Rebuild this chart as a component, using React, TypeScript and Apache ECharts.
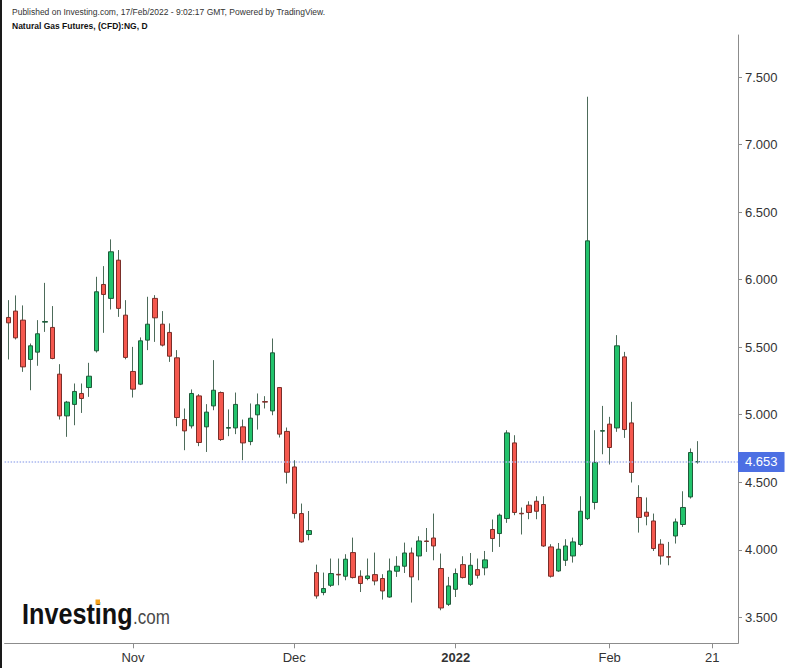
import React, { useEffect, useRef } from "react";
import * as echarts from "echarts";

const dates = [
  "2021-10-07","2021-10-08","2021-10-11","2021-10-12","2021-10-13","2021-10-14","2021-10-15","2021-10-18","2021-10-19","2021-10-20","2021-10-21","2021-10-22","2021-10-25","2021-10-26","2021-10-27","2021-10-28","2021-10-29",
  "2021-11-01","2021-11-02","2021-11-03","2021-11-04","2021-11-05","2021-11-08","2021-11-09","2021-11-10","2021-11-11","2021-11-12","2021-11-15","2021-11-16","2021-11-17","2021-11-18","2021-11-19","2021-11-22","2021-11-23","2021-11-24","2021-11-25","2021-11-26","2021-11-29","2021-11-30",
  "2021-12-01","2021-12-02","2021-12-03","2021-12-06","2021-12-07","2021-12-08","2021-12-09","2021-12-10","2021-12-13","2021-12-14","2021-12-15","2021-12-16","2021-12-17","2021-12-20","2021-12-21","2021-12-22","2021-12-23","2021-12-27","2021-12-28","2021-12-29","2021-12-30","2021-12-31",
  "2022-01-03","2022-01-04","2022-01-05","2022-01-06","2022-01-07","2022-01-10","2022-01-11","2022-01-12","2022-01-13","2022-01-14","2022-01-17","2022-01-18","2022-01-19","2022-01-20","2022-01-21","2022-01-24","2022-01-25","2022-01-26","2022-01-27","2022-01-28","2022-01-31",
  "2022-02-01","2022-02-02","2022-02-03","2022-02-04","2022-02-07","2022-02-08","2022-02-09","2022-02-10","2022-02-11","2022-02-14","2022-02-15","2022-02-16","2022-02-17","2022-02-18","2022-02-21","2022-02-22","2022-02-23","2022-02-24",
];

const openP = [
  5.72,5.767,5.70,5.409,5.463,5.685,5.646,5.30,4.991,5.076,5.157,5.201,5.473,5.964,5.861,6.144,5.737,
  5.32,5.226,5.552,5.861,5.670,5.609,5.421,4.964,4.917,5.139,4.910,5.065,5.164,4.900,4.902,4.910,4.801,4.999,5.097,5.028,5.201,4.876,
  4.613,4.268,4.113,3.831,3.683,3.737,3.818,3.804,3.979,3.804,3.787,3.816,3.787,3.650,3.841,3.878,3.976,3.954,4.065,4.087,3.861,3.596,
  3.707,3.890,3.744,3.853,3.866,4.150,4.120,4.231,4.791,4.270,4.330,4.359,4.335,4.021,3.843,3.922,3.954,4.039,4.231,4.350,4.878,
  4.930,4.902,5.428,4.939,4.387,4.278,4.213,4.041,3.949,4.102,4.187,4.391,4.650,
];
const highP = [
  5.848,5.883,5.809,5.527,5.70,5.976,5.804,5.374,5.102,5.231,5.231,5.384,6.021,6.10,6.298,6.219,5.848,
  5.502,5.572,5.873,5.885,5.767,5.676,5.478,5.046,5.187,5.152,5.078,5.404,5.172,5.039,5.164,4.964,5.083,5.157,5.137,5.564,5.205,4.905,
  4.663,4.342,4.287,3.890,3.831,3.935,3.935,3.967,4.090,3.848,3.935,3.979,3.819,3.935,3.952,4.053,4.016,4.100,4.161,4.268,3.972,3.799,
  3.861,3.952,3.976,3.935,3.991,4.224,4.268,4.885,4.848,4.313,4.359,4.396,4.396,4.041,4.050,4.078,4.090,4.396,7.354,4.885,5.065,
  4.984,5.589,5.465,5.095,4.478,4.387,4.268,4.078,4.058,4.231,4.433,4.750,4.804,
];
const lowP = [
  5.409,5.557,5.317,5.181,5.362,5.613,5.41,4.964,4.836,4.922,5.013,5.132,5.46,5.606,5.779,5.724,5.41,
  5.127,5.219,5.478,5.539,5.505,5.391,4.915,4.737,4.898,4.767,4.724,5.033,4.806,4.841,4.856,4.663,4.774,4.890,5.046,4.996,4.831,4.490,
  4.231,4.052,4.070,3.638,3.663,3.724,3.737,3.774,3.787,3.687,3.774,3.737,3.631,3.645,3.799,3.828,3.609,3.774,3.984,3.922,3.552,3.584,
  3.650,3.787,3.732,3.787,3.811,3.984,4.021,4.199,4.256,4.113,4.226,4.226,4.021,3.794,3.836,3.880,3.905,4.026,4.22,4.298,4.707,
  4.631,4.873,4.828,4.498,4.127,4.181,3.991,3.890,3.885,4.046,4.169,4.379,4.638,
];
const closeP = [
  5.68,5.569,5.354,5.510,5.599,5.690,5.416,4.991,5.093,5.172,5.12,5.285,5.91,5.890,6.206,5.787,5.424,
  5.189,5.547,5.670,5.717,5.515,5.433,4.979,4.880,5.157,4.794,5.019,5.181,4.816,4.905,5.076,4.791,4.974,5.073,5.093,5.458,4.856,4.574,
  4.268,4.058,4.142,3.658,3.713,3.824,3.814,3.930,3.794,3.750,3.806,3.769,3.695,3.843,3.878,3.976,3.799,4.065,4.061,4.028,3.569,3.732,
  3.824,3.794,3.885,3.811,3.925,4.083,4.256,4.865,4.276,4.266,4.276,4.285,4.028,3.804,4.004,4.028,4.058,4.285,6.287,4.646,4.882,
  4.757,5.510,4.890,4.572,4.239,4.248,4.009,3.954,3.945,4.206,4.313,4.720,4.653,
];

const yTicks = [3.5, 4.0, 4.5, 5.0, 5.5, 6.0, 6.5, 7.0, 7.5];
const xLabels: Record<string, string> = {
  "2021-11-01": "Nov",
  "2021-12-01": "Dec",
  "2022-01-03": "2022",
  "2022-02-01": "Feb",
  "2022-02-21": "21",
};
const lastPrice = closeP[closeP.length - 1];

const FONT = "'Liberation Sans', Arial, sans-serif";

export default function App() {
  const ref = useRef<HTMLDivElement>(null);

  useEffect(() => {
    if (!ref.current) return;
    const chart = echarts.init(ref.current, undefined, { renderer: "svg" });

    const full = closeP.map((c, i) => [openP[i], c, lowP[i], highP[i]]);
    const bodies = closeP.map((c, i) => [
      openP[i],
      c,
      Math.min(openP[i], c),
      Math.max(openP[i], c),
    ]);

    const option: any = {
      animation: false,
      backgroundColor: "#ffffff",
      grid: { left: 4.6, right: 49, top: 35, bottom: 24.7 },
      xAxis: {
        type: "category",
        data: dates,
        boundaryGap: true,
        axisLine: { show: true, lineStyle: { color: "#8c8c8c", width: 1 } },
        axisTick: {
          show: true,
          alignWithLabel: true,
          length: 5,
          interval: (i: number, v: string) => xLabels[v] !== undefined,
          lineStyle: { color: "#8c8c8c" },
        },
        axisLabel: {
          interval: (i: number, v: string) => xLabels[v] !== undefined,
          formatter: (v: string) =>
            xLabels[v] === "2022" ? "{b|2022}" : xLabels[v] || "",
          color: "#333333",
          fontSize: 13,
          fontFamily: FONT,
          margin: 8,
          rich: {
            b: { fontWeight: "bold", fontSize: 13, color: "#333333", fontFamily: FONT },
          },
        },
        splitLine: { show: false },
      },
      yAxis: {
        type: "value",
        position: "right",
        min: 3.3074,
        max: 7.8111,
        scale: true,
        axisLine: { show: true, lineStyle: { color: "#8c8c8c", width: 1 } },
        axisTick: {
          show: true,
          length: 4,
          customValues: yTicks,
          lineStyle: { color: "#8c8c8c" },
        },
        axisLabel: {
          customValues: yTicks,
          formatter: (v: number) => v.toFixed(3),
          color: "#333333",
          fontSize: 13,
          fontFamily: FONT,
          margin: 7,
        },
        splitLine: { show: false },
      },
      series: [
        {
          type: "candlestick",
          name: "wicks",
          data: full,
          barWidth: 1,
          silent: true,
          itemStyle: {
            color: "#4d6b5a",
            color0: "#4d6b5a",
            borderColor: "#4d6b5a",
            borderColor0: "#4d6b5a",
            borderWidth: 1,
          },
        },
        {
          type: "candlestick",
          name: "bodies",
          data: bodies,
          barWidth: 5,
          silent: true,
          itemStyle: {
            color: "#22c36c",
            color0: "#f5584e",
            borderColor: "#1f5a3a",
            borderColor0: "#7a2e29",
            borderWidth: 1,
          },
          markLine: {
            silent: true,
            symbol: ["none", "none"],
            lineStyle: { type: "dotted", color: "#a9b7ef", width: 1.5 },
            label: {
              show: true,
              position: "end",
              distance: 0,
              formatter: () => lastPrice.toFixed(3),
              color: "#ffffff",
              fontSize: 13,
              fontFamily: FONT,
              backgroundColor: "#4c6fe3",
              padding: [4, 7, 3, 7],
            },
            data: [{ yAxis: lastPrice }],
          },
        },
      ],
      graphic: [
        {
          type: "rect",
          left: 0,
          top: 0,
          shape: { x: 0, y: 0, width: 2, height: 668 },
          style: { fill: "#1a1a1a" },
        },
        {
          type: "text",
          x: 12,
          y: 11.5,
          style: {
            text: "Published on Investing.com, 17/Feb/2022 - 9:02:17 GMT, Powered by TradingView.",
            fill: "#333333",
            font: `8.5px ${FONT}`,
            align: "left",
            verticalAlign: "middle",
            textAlign: "left",
            textVerticalAlign: "middle",
          },
        },
        {
          type: "text",
          x: 12,
          y: 25.5,
          style: {
            text: "Natural Gas Futures, (CFD):NG, D",
            fill: "#111111",
            font: `bold 8.5px ${FONT}`,
            align: "left",
            verticalAlign: "middle",
            textAlign: "left",
            textVerticalAlign: "middle",
          },
        },
        {
          type: "text",
          x: 22,
          y: 613.5,
          scaleX: 0.84,
          style: {
            text: "Investing",
            fill: "#111111",
            font: `bold 30px ${FONT}`,
            align: "left",
            verticalAlign: "middle",
            textAlign: "left",
            textVerticalAlign: "middle",
          },
        },
        {
          type: "rect",
          shape: { x: 95.5, y: 599.5, width: 4.5, height: 5 },
          style: { fill: "#f5a11c" },
        },
        {
          type: "text",
          x: 133,
          y: 617,
          scaleX: 0.85,
          style: {
            text: ".com",
            fill: "#4a4a4a",
            font: `20px ${FONT}`,
            align: "left",
            verticalAlign: "middle",
            textAlign: "left",
            textVerticalAlign: "middle",
          },
        },
      ],
    };

    chart.setOption(option);
    return () => chart.dispose();
  }, []);

  return (
    <div
      ref={ref}
      style={{ position: "absolute", left: 0, top: 0, width: 787, height: 668, background: "#fff" }}
    />
  );
}
